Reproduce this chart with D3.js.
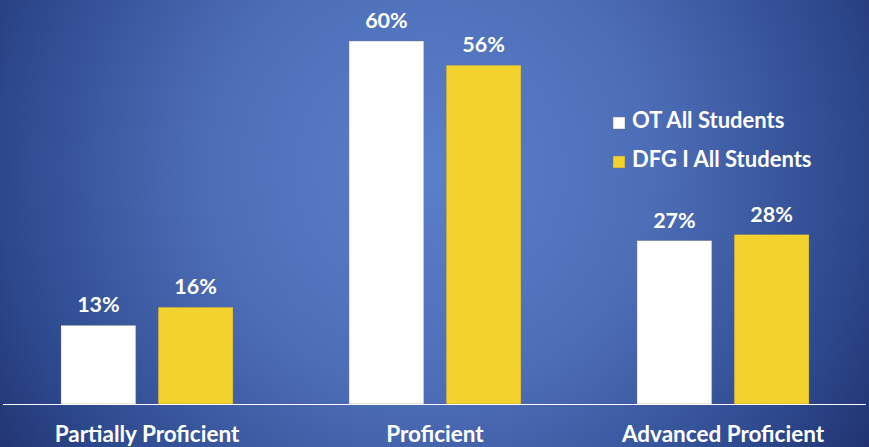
<!DOCTYPE html>
<html><head><meta charset="utf-8">
<script src="https://cdn.jsdelivr.net/npm/d3@7"></script>
<style>html,body{margin:0;padding:0;background:#2a3f86;}svg{display:block;}</style>
</head><body>
<script>
const categories = ["Partially Proficient", "Proficient", "Advanced Proficient"];
const seriesNames = ["OT All Students", "DFG I All Students"];
const otValues = [13, 60, 27];
const dfgValues = [16, 56, 28];
const colors = ["#FFFFFF", "#F4D22E"];

const W = 869, H = 447;
const FONT = "Lato, 'Open Sans', sans-serif";
const svg = d3.select("body").append("svg").attr("width", W).attr("height", H);
const defs = svg.append("defs");
const rg = defs.append("radialGradient").attr("id", "bg").attr("gradientUnits", "userSpaceOnUse")
  .attr("cx", 430).attr("cy", 170).attr("r", 560);
rg.append("stop").attr("offset", "0%").attr("stop-color", "#5C7FC9");
rg.append("stop").attr("offset", "40%").attr("stop-color", "#4D6DB7");
rg.append("stop").attr("offset", "75%").attr("stop-color", "#2E4A8F");
rg.append("stop").attr("offset", "100%").attr("stop-color", "#1B2A63");
svg.append("rect").attr("width", W).attr("height", H).attr("fill", "url(#bg)");

const x0 = d3.scaleBand().domain(categories).range([3, 867]).paddingInner(0).paddingOuter(0);
const x1 = d3.scaleBand().domain(seriesNames).range([0, 172]).paddingInner(0.23);
const y = d3.scaleLinear().domain([0, 60]).range([404, 41]);

const data = categories.map((c, i) => ({cat: c, vals: [otValues[i], dfgValues[i]]}));

const g = svg.append("g");
data.forEach(d => {
  const gx = x0(d.cat) + (x0.bandwidth() - 172) / 2;
  d.vals.forEach((v, j) => {
    const bx = gx + x1(seriesNames[j]);
    g.append("rect").attr("x", bx).attr("y", y(v)).attr("width", x1.bandwidth()).attr("height", y(0) - y(v))
      .attr("fill", colors[j]).attr("stroke", "rgba(120,120,120,0.5)").attr("stroke-width", 0.8);
    g.append("text").attr("x", bx + x1.bandwidth() / 2).attr("y", y(v) - 13)
      .attr("text-anchor", "middle").attr("fill", "#fff").attr("font-family", FONT)
      .attr("font-weight", "bold").attr("font-size", 21.5).text(v + "%");
  });
  g.append("text").attr("x", x0(d.cat) + x0.bandwidth() / 2).attr("y", 442)
    .attr("text-anchor", "middle").attr("fill", "#fff").attr("font-family", FONT)
    .attr("font-weight", "bold").attr("font-size", 22.5).text(d.cat);
});

svg.append("line").attr("x1", 3).attr("x2", 866).attr("y1", y(0) + 0.5).attr("y2", y(0) + 0.5)
  .attr("stroke", "#fff").attr("stroke-width", 1.2);

const leg = svg.append("g");
seriesNames.forEach((s, i) => {
  const ly = 128 + i * 39;
  leg.append("rect").attr("x", 613).attr("y", ly - 11).attr("width", 12).attr("height", 12)
    .attr("fill", colors[i]).attr("stroke", "rgba(120,120,120,0.6)").attr("stroke-width", 0.8);
  leg.append("text").attr("x", 632).attr("y", ly).attr("fill", "#fff").attr("font-family", FONT)
    .attr("font-weight", "bold").attr("font-size", 22).text(s);
});
</script>
</body></html>
